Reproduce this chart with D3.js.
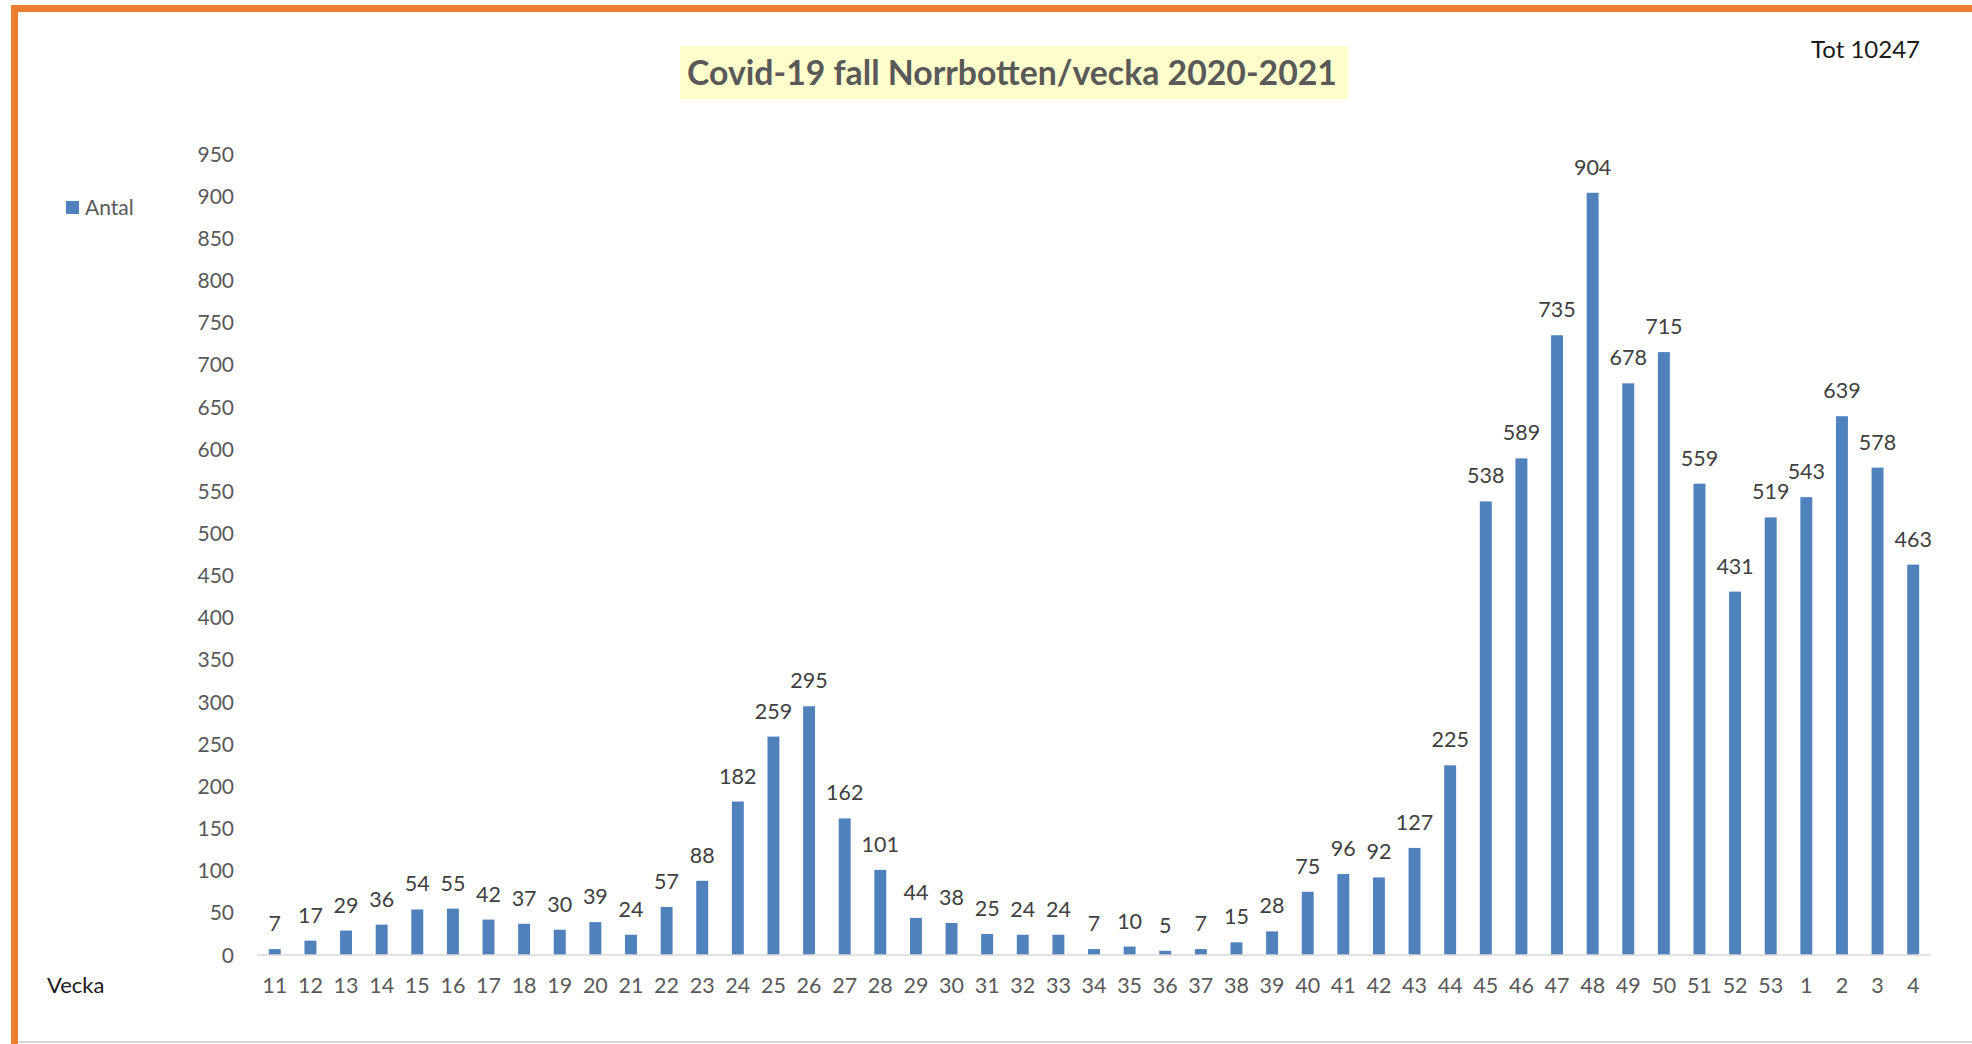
<!DOCTYPE html>
<html>
<head>
<meta charset="utf-8">
<script src="https://cdn.jsdelivr.net/npm/d3@7"></script>
<style>
  html, body { margin: 0; padding: 0; background: #ffffff; }
  svg { display: block; }
  text { font-family: Lato, "Open Sans", sans-serif; }
</style>
</head>
<body>
<svg id="chart" width="1972" height="1044"></svg>
<script>
const weeks = ["11","12","13","14","15","16","17","18","19","20","21","22","23","24","25","26","27","28","29","30","31","32","33","34","35","36","37","38","39","40","41","42","43","44","45","46","47","48","49","50","51","52","53","1","2","3","4"];
const antal = [7,17,29,36,54,55,42,37,30,39,24,57,88,182,259,295,162,101,44,38,25,24,24,7,10,5,7,15,28,75,96,92,127,225,538,589,735,904,678,715,559,431,519,543,639,578,463];
const yTicks = [0,50,100,150,200,250,300,350,400,450,500,550,600,650,700,750,800,850,900,950];
const titleText = "Covid-19 fall Norrbotten/vecka 2020-2021";
const totalText = "Tot 10247";
const seriesName = "Antal";
const xAxisName = "Vecka";

const svg = d3.select("#chart");
const W = 1972, H = 1044;

// frame
svg.append("rect").attr("x", 0).attr("y", 0).attr("width", W).attr("height", H).attr("fill", "#ffffff");
svg.append("line").attr("x1", 18).attr("x2", W).attr("y1", 1042).attr("y2", 1042)
  .attr("stroke", "#d9d9d9").attr("stroke-width", 2);
svg.append("rect").attr("x", 11).attr("y", 5).attr("width", W - 11).attr("height", 7).attr("fill", "#ED7D31");
svg.append("rect").attr("x", 11).attr("y", 5).attr("width", 7).attr("height", H - 5).attr("fill", "#ED7D31");

const x = d3.scaleBand().domain(weeks).range([257, 1931]).paddingInner(0.665).paddingOuter(0.3325);
const y = d3.scaleLinear().domain([0, 950]).range([955, 154]);

// y labels
svg.append("g").selectAll("text").data(yTicks).join("text")
  .attr("x", 234).attr("y", d => y(d)).attr("dy", "0.36em")
  .attr("text-anchor", "end").attr("font-size", 21).attr("fill", "#595959")
  .text(d => d);

// bars
svg.append("g").selectAll("rect").data(antal).join("rect")
  .attr("x", (d, i) => x(weeks[i]))
  .attr("width", x.bandwidth())
  .attr("y", d => y(d))
  .attr("height", d => y(0) - y(d))
  .attr("fill", "#4F81BD");

// axis line
svg.append("line").attr("x1", 257).attr("x2", 1931).attr("y1", y(0)).attr("y2", y(0))
  .attr("stroke", "#d9d9d9").attr("stroke-width", 1.5);

// data labels
svg.append("g").selectAll("text").data(antal).join("text")
  .attr("x", (d, i) => x(weeks[i]) + x.bandwidth() / 2)
  .attr("y", d => y(d) - 18)
  .attr("text-anchor", "middle").attr("font-size", 21.5).attr("fill", "#404040")
  .text(d => d);

// x labels
svg.append("g").selectAll("text").data(weeks).join("text")
  .attr("x", d => x(d) + x.bandwidth() / 2)
  .attr("y", 993)
  .attr("text-anchor", "middle").attr("font-size", 21.5).attr("fill", "#595959")
  .text(d => d);

svg.append("text").attr("x", 47).attr("y", 993).attr("font-size", 22).attr("fill", "#1a1a1a").text(xAxisName);

// legend
svg.append("rect").attr("x", 66).attr("y", 201).attr("width", 13).attr("height", 13).attr("fill", "#4F81BD");
svg.append("text").attr("x", 85).attr("y", 215).attr("font-size", 21).attr("fill", "#595959").text(seriesName);

// total
svg.append("text").attr("x", 1811).attr("y", 58).attr("font-size", 24).attr("fill", "#1a1a1a").text(totalText);

// title
svg.append("rect").attr("x", 680).attr("y", 46).attr("width", 668).attr("height", 53).attr("fill", "#FFFFCC");
const t = svg.append("text").attr("x", 1012).attr("y", 85).attr("text-anchor", "middle")
  .attr("font-size", 28).attr("font-weight", "bold").attr("fill", "#595959").text(titleText);
const len = t.node().getComputedTextLength();
t.attr("font-size", 28 * 650 / len);
</script>
</body>
</html>
